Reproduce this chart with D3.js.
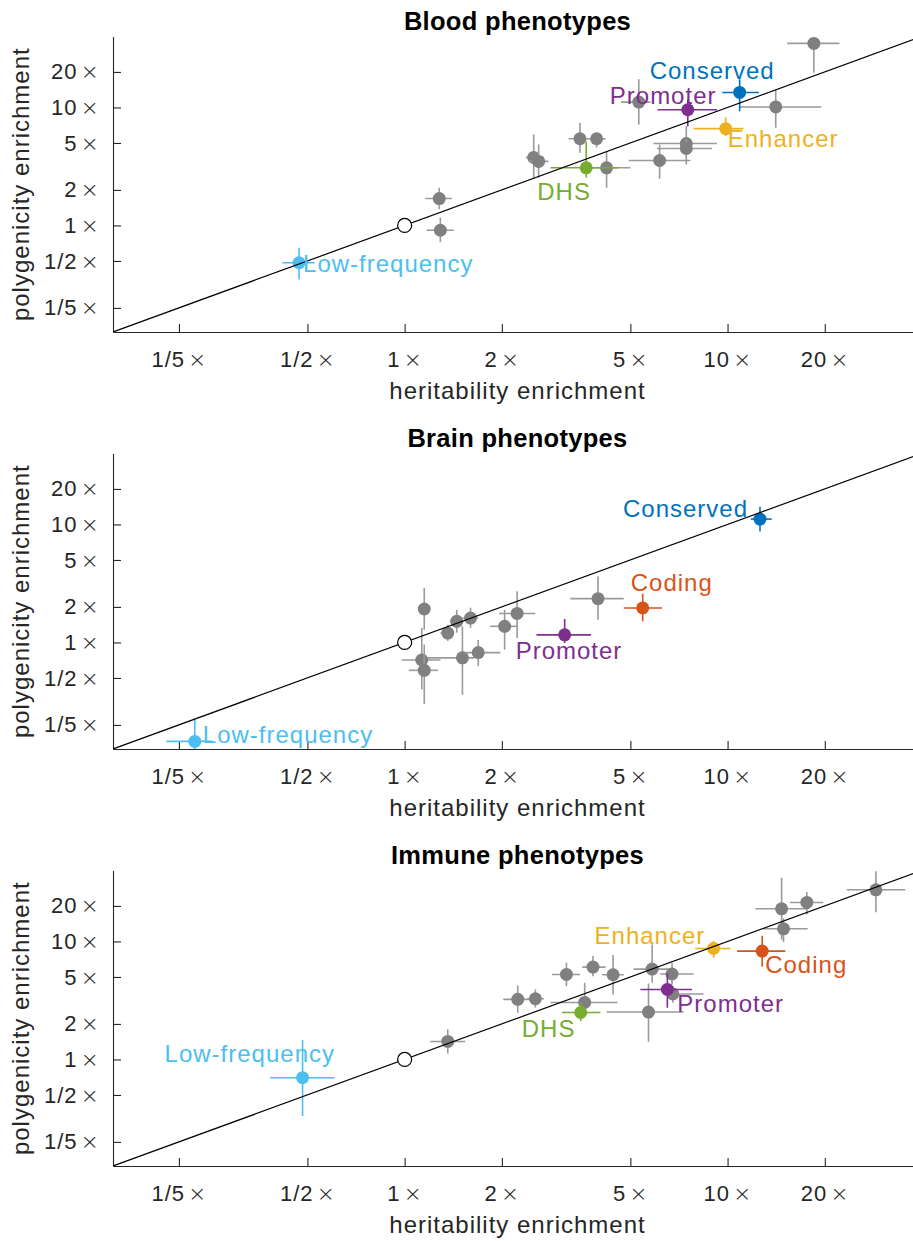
<!DOCTYPE html>
<html>
<head>
<meta charset="utf-8">
<script src="https://cdn.jsdelivr.net/npm/d3@7"></script>
<style>
  html, body { margin: 0; padding: 0; background: #fff; }
  svg { display: block; font-family: "Liberation Sans", Arial, Helvetica, sans-serif; }
  .times { font-family: "DejaVu Sans", sans-serif; font-weight: 200; }
</style>
</head>
<body>
<svg id="chart" width="913" height="1241"></svg>
<script>
// ---- data -------------------------------------------------------------
const panelTitles = ["Blood phenotypes", "Brain phenotypes", "Immune phenotypes"];
const tickValues = [0.2, 0.5, 1, 2, 5, 10, 20];
const tickLabels = ["1/5\u00d7", "1/2\u00d7", "1\u00d7", "2\u00d7", "5\u00d7", "10\u00d7", "20\u00d7"];
const xLabel = "heritability enrichment";
const yLabel = "polygenicity enrichment";

// rows: [heritability, h low, h high, polygenicity, p low, p high]
const bloodBackground = [
  [1.28, 1.16, 1.40, 1.69, 1.37, 2.09],
  [1.29, 1.17, 1.42, 0.91, 0.72, 1.17],
  [2.51, 2.37, 2.69, 3.77, 2.55, 5.90],
  [2.60, 2.42, 2.79, 3.49, 2.55, 4.86],
  [3.49, 3.22, 3.72, 5.43, 4.13, 7.42],
  [3.93, 3.72, 4.19, 5.43, 4.58, 6.14],
  [4.22, 3.76, 5.00, 3.08, 2.09, 4.26],
  [6.16, 4.94, 7.67, 3.55, 2.49, 4.86],
  [7.45, 5.89, 9.27, 4.95, 4.24, 6.94],
  [7.45, 6.05, 8.95, 4.49, 3.29, 5.35],
  [5.31, 4.68, 5.77, 11.1, 7.18, 17.3],
  [14.1, 10.9, 19.5, 10.1, 6.73, 14.2],
  [18.5, 15.3, 22.2, 34.9, 19.7, 39.2]
];
const bloodLabeled = [
  ["Low-frequency", 0.471, 0.418, 0.527, 0.483, 0.348, 0.647],
  ["DHS",           3.65, 2.83, 4.59, 3.08, 2.55, 5.15],
  ["Promoter",      7.53, 6.07, 9.27, 9.56, 6.94, 11.7],
  ["Enhancer",      9.87, 7.85, 11.2, 6.61, 5.71, 8.23],
  ["Conserved",     10.9, 9.63, 12.5, 13.4, 9.30, 17.3]
];

const brainBackground = [
  [1.15, 1.11, 1.19, 1.92, 1.28, 2.89],
  [1.13, 0.98, 1.29, 0.71, 0.40, 1.33],
  [1.15, 1.03, 1.27, 0.58, 0.30, 0.96],
  [1.36, 1.29, 1.42, 1.20, 1.03, 1.41],
  [1.45, 1.38, 1.52, 1.51, 1.21, 1.89],
  [1.60, 1.51, 1.69, 1.61, 1.33, 1.97],
  [1.51, 1.18, 1.64, 0.74, 0.36, 1.37],
  [1.69, 1.54, 1.98, 0.82, 0.63, 1.05],
  [2.04, 1.84, 2.23, 1.37, 0.87, 1.89],
  [2.23, 1.96, 2.54, 1.76, 1.09, 2.71],
  [3.97, 3.26, 4.77, 2.35, 1.56, 3.62]
];
const brainLabeled = [
  ["Low-frequency", 0.224, 0.183, 0.254, 0.145, 0.10, 0.221],
  ["Promoter",      3.13, 2.56, 3.78, 1.16, 0.99, 1.58],
  ["Coding",        5.46, 4.77, 6.27, 1.96, 1.51, 2.59],
  ["Conserved",     12.6, 11.8, 13.7, 11.1, 8.72, 14.1]
];

const immuneBackground = [
  [1.36, 1.20, 1.54, 1.42, 1.12, 1.80],
  [2.24, 2.02, 2.44, 3.23, 2.49, 4.24],
  [2.54, 2.40, 2.70, 3.27, 2.76, 3.92],
  [3.17, 2.86, 3.49, 5.25, 4.18, 6.60],
  [3.83, 3.55, 4.19, 6.06, 5.08, 7.51],
  [4.42, 4.09, 4.77, 5.22, 3.55, 7.69],
  [3.61, 2.83, 4.56, 3.04, 2.60, 4.47],
  [5.69, 4.22, 7.31, 2.52, 1.41, 4.41],
  [5.84, 5.12, 6.57, 5.83, 4.47, 9.43],
  [6.73, 6.19, 7.85, 5.30, 4.32, 6.60],
  [6.77, 6.34, 8.43, 3.59, 3.02, 4.18],
  [14.7, 12.2, 17.8, 18.9, 10.4, 34.7],
  [14.9, 12.9, 17.7, 12.8, 9.90, 15.7],
  [17.6, 15.6, 19.8, 21.4, 16.9, 26.2],
  [28.8, 23.4, 35.5, 27.4, 17.7, 39.4]
];
const immuneLabeled = [
  ["Low-frequency", 0.483, 0.383, 0.607, 0.70, 0.331, 1.46],
  ["DHS",           3.51, 3.07, 4.04, 2.50, 2.11, 3.02],
  ["Promoter",      6.51, 5.37, 7.76, 3.92, 2.74, 5.36],
  ["Enhancer",      9.05, 7.94, 10.2, 8.72, 7.28, 10.1],
  ["Coding",        12.8, 10.7, 15.1, 8.28, 6.10, 11.2]
];

// ---- styling / layout -------------------------------------------------
const annotationColors = {
  "Low-frequency": "#4DBEEE",
  "DHS": "#77AC30",
  "Promoter": "#7E2F8E",
  "Enhancer": "#EDB120",
  "Conserved": "#0072BD",
  "Coding": "#D95319"
};
// label text position relative to its marker (px)
const bloodLabelOffsets = {
  "Low-frequency": [4, 9], "DHS": [-49, 32], "Promoter": [-78, -6],
  "Enhancer": [2, 18], "Conserved": [-90, -13]
};
const brainLabelOffsets = {
  "Low-frequency": [8, 2], "Promoter": [-49, 24], "Coding": [-12, -17],
  "Conserved": [-137, -2]
};
const immuneLabelOffsets = {
  "Low-frequency": [-138, -16], "DHS": [-59, 25], "Promoter": [10, 23],
  "Enhancer": [-119, -4], "Coding": [3, 22]
};

const panels = [
  { title: panelTitles[0], background: bloodBackground, labeled: bloodLabeled, offsets: bloodLabelOffsets },
  { title: panelTitles[1], background: brainBackground, labeled: brainLabeled, offsets: brainLabelOffsets },
  { title: panelTitles[2], background: immuneBackground, labeled: immuneLabeled, offsets: immuneLabelOffsets }
];

const axisColor = "#262626";
const grayMarker = "#808080";
const grayBar = "#9a9a9a";
const domain = [0.125, 40];
const left = 113, right = 922;
const plotHeight = 295.6;
const panelStep = 417;
const firstBottom = 332;
const markerR = 6.5;

const svg = d3.select("#chart");
const x = d3.scaleLog().domain(domain).range([left, right]);

// tick label: number followed by a light multiplication sign
function formatTick(sel) {
  sel.each(function (d) {
    const k = tickValues.indexOf(d);
    const parts = tickLabels[k].split("\u00d7");
    const t = d3.select(this).text(null);
    t.append("tspan").text(parts[0]);
    t.append("tspan").attr("class", "times").attr("dx", 3).text("\u00d7");
  });
}

panels.forEach((panel, i) => {
  const bottom = firstBottom + panelStep * i;
  const top = bottom - plotHeight;
  const y = d3.scaleLog().domain(domain).range([bottom, top]);
  const g = svg.append("g");

  const clipId = "clip" + i;
  svg.append("clipPath").attr("id", clipId)
    .append("rect").attr("x", left).attr("y", top)
    .attr("width", right - left).attr("height", plotHeight);

  // axes
  const xAxis = d3.axisBottom(x).tickValues(tickValues)
    .tickSizeInner(-8).tickSizeOuter(0).tickPadding(19);
  const yAxis = d3.axisLeft(y).tickValues(tickValues)
    .tickSizeInner(-8).tickSizeOuter(0).tickPadding(13);

  const gx = g.append("g").attr("transform", `translate(0,${bottom})`).call(xAxis);
  const gy = g.append("g").attr("transform", `translate(${left},0)`).call(yAxis);
  [gx, gy].forEach(a => {
    a.attr("font-family", null).attr("font-size", null);
    a.select(".domain").attr("stroke", axisColor).attr("stroke-width", 1.1);
    a.selectAll(".tick line").attr("stroke", axisColor).attr("stroke-width", 1.1);
    a.selectAll(".tick text").attr("fill", axisColor)
      .style("font-size", "22px").style("letter-spacing", "1px")
      .call(formatTick);
  });

  // title and axis labels
  g.append("text").attr("x", (left + right) / 2).attr("y", top - 6)
    .attr("text-anchor", "middle").attr("fill", "#000")
    .style("font-size", "25.5px").style("font-weight", "bold").style("letter-spacing", "0.3px")
    .text(panel.title);
  g.append("text").attr("x", (left + right) / 2).attr("y", bottom + 67)
    .attr("text-anchor", "middle").attr("fill", axisColor)
    .style("font-size", "24px").style("letter-spacing", "1px")
    .text(xLabel);
  g.append("text")
    .attr("transform", `translate(29,${(top + bottom) / 2}) rotate(-90)`)
    .attr("text-anchor", "middle").attr("fill", axisColor)
    .style("font-size", "24px").style("letter-spacing", "1px")
    .text(yLabel);

  const plot = g.append("g").attr("clip-path", `url(#${clipId})`);

  function drawPoints(rows, colorOf, barColorOf, offset) {
    const grp = plot.append("g");
    const pts = grp.selectAll("g.pt").data(rows).enter().append("g").attr("class", "pt");
    pts.append("line")
      .attr("x1", d => x(d[offset + 1])).attr("x2", d => x(d[offset + 2]))
      .attr("y1", d => y(d[offset + 3])).attr("y2", d => y(d[offset + 3]))
      .attr("stroke", barColorOf).attr("stroke-width", 1.6);
    pts.append("line")
      .attr("x1", d => x(d[offset])).attr("x2", d => x(d[offset]))
      .attr("y1", d => y(d[offset + 4])).attr("y2", d => y(d[offset + 5]))
      .attr("stroke", barColorOf).attr("stroke-width", 1.6);
    pts.append("circle")
      .attr("cx", d => x(d[offset])).attr("cy", d => y(d[offset + 3]))
      .attr("r", markerR).attr("fill", colorOf);
  }

  drawPoints(panel.background, () => grayMarker, () => grayBar, 0);
  drawPoints(panel.labeled, d => annotationColors[d[0]], d => annotationColors[d[0]], 1);

  // y = x reference line
  plot.append("line")
    .attr("x1", x(domain[0])).attr("y1", y(domain[0]))
    .attr("x2", x(domain[1])).attr("y2", y(domain[1]))
    .attr("stroke", "#000").attr("stroke-width", 1.2);

  // baseline reference point at (1, 1)
  plot.append("circle").attr("cx", x(1)).attr("cy", y(1)).attr("r", 7)
    .attr("fill", "#fff").attr("stroke", "#000").attr("stroke-width", 1.2);

  // category labels
  g.selectAll("text.lab").data(panel.labeled).enter().append("text")
    .attr("class", "lab")
    .attr("x", d => x(d[1]) + panel.offsets[d[0]][0])
    .attr("y", d => y(d[4]) + panel.offsets[d[0]][1])
    .attr("fill", d => annotationColors[d[0]])
    .style("font-size", "24px").style("letter-spacing", "1px")
    .text(d => d[0]);
});
</script>
</body>
</html>
